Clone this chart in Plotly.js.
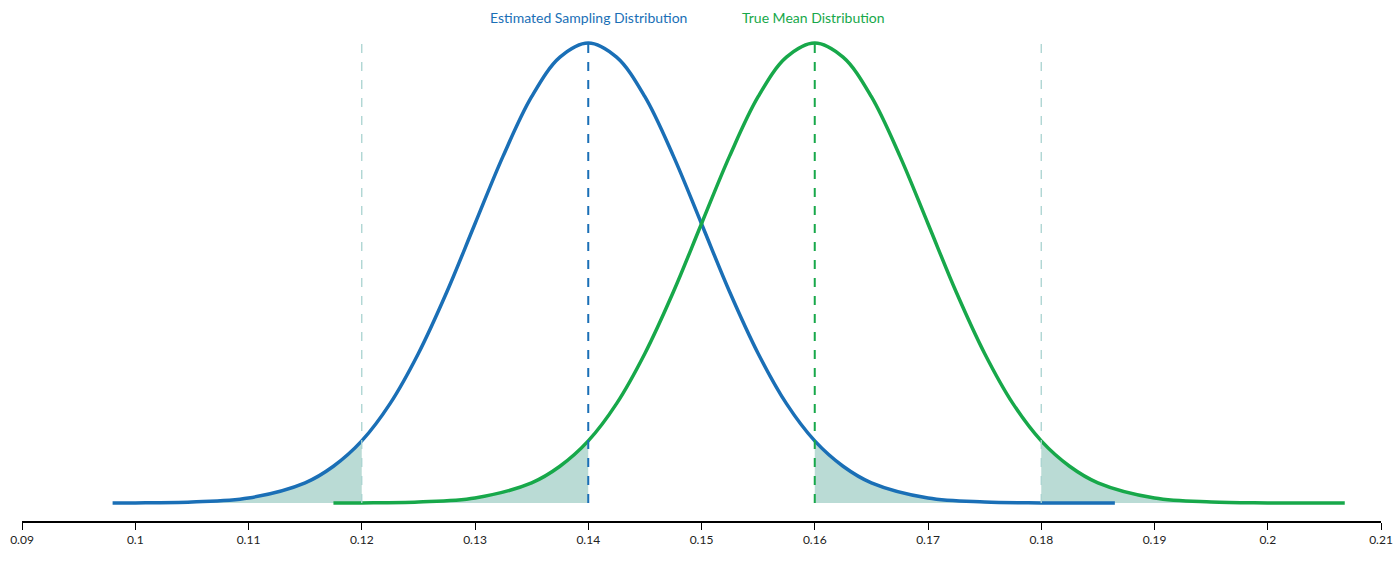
<!DOCTYPE html>
<html>
<head>
<meta charset="utf-8">
<script src="https://cdn.plot.ly/plotly-3.0.1.min.js"></script>
<style>html,body{margin:0;padding:0;background:#fff}#chart{width:1400px;height:561px}</style>
</head>
<body>
<div id="chart"></div>
<script>
// Curve heights (relative to the peak)
const blueX = [0.098, 0.100, 0.105, 0.110, 0.115, 0.1175, 0.120, 0.1225, 0.125, 0.1275, 0.130, 0.1325, 0.135, 0.1375, 0.140,
               0.1425, 0.145, 0.1475, 0.150, 0.1525, 0.155, 0.1575, 0.160, 0.1625, 0.165, 0.170, 0.175, 0.180, 0.1865];
const blueY = [0.0002, 0.0003, 0.0022, 0.011, 0.044, 0.080, 0.135, 0.216, 0.325, 0.458, 0.607, 0.755, 0.883, 0.969, 1.0,
               0.969, 0.883, 0.755, 0.607, 0.458, 0.325, 0.216, 0.135, 0.080, 0.044, 0.011, 0.0022, 0.0003, 0.0];
const greenX = [0.1175, 0.120, 0.125, 0.130, 0.135, 0.1375, 0.140, 0.1425, 0.145, 0.1475, 0.150, 0.1525, 0.155, 0.1575, 0.160,
                0.1625, 0.165, 0.1675, 0.170, 0.1725, 0.175, 0.1775, 0.180, 0.1825, 0.185, 0.190, 0.195, 0.200, 0.2068];
const greenY = [0.0001, 0.0003, 0.0022, 0.011, 0.044, 0.080, 0.135, 0.216, 0.325, 0.458, 0.607, 0.755, 0.883, 0.969, 1.0,
                0.969, 0.883, 0.755, 0.607, 0.458, 0.325, 0.216, 0.135, 0.080, 0.044, 0.011, 0.0022, 0.0003, 0.0];
const tickVals = [0.09, 0.10, 0.11, 0.12, 0.13, 0.14, 0.15, 0.16, 0.17, 0.18, 0.19, 0.20, 0.21];
const tickText = ['0.09', '0.1', '0.11', '0.12', '0.13', '0.14', '0.15', '0.16', '0.17', '0.18', '0.19', '0.2', '0.21'];
const critLines = [0.12, 0.18];
const blueMean = 0.14, greenMean = 0.16;

const C = { blue: '#1a6fb6', green: '#17a84a', shade: 'rgba(140,195,185,0.6)', crit: '#a9d3d0' };

function slice(xs, ys, lo, hi) {
  const x = [], y = [];
  xs.forEach((v, i) => { if (v >= lo - 1e-9 && v <= hi + 1e-9) { x.push(v); y.push(ys[i]); } });
  return { x, y };
}
function shade(xs, ys, lo, hi) {
  const s = slice(xs, ys, lo, hi);
  return { type: 'scatter', mode: 'lines', x: s.x, y: s.y, fill: 'tozeroy',
           fillcolor: C.shade, line: { width: 0, shape: 'spline' }, hoverinfo: 'skip' };
}

const traces = [
  shade(blueX, blueY, 0.098, 0.12),
  shade(greenX, greenY, 0.1175, 0.14),
  shade(blueX, blueY, 0.16, 0.1865),
  shade(greenX, greenY, 0.18, 0.2068),
  { type: 'scatter', mode: 'lines', x: blueX, y: blueY, line: { color: C.blue, width: 3.5, shape: 'spline' } },
  { type: 'scatter', mode: 'lines', x: greenX, y: greenY, line: { color: C.green, width: 3.5, shape: 'spline' } },
];

const vline = (x, color, w) => ({ type: 'line', xref: 'x', yref: 'y', x0: x, x1: x, y0: 0, y1: 1,
  line: { color, width: w, dash: 'dash' } });

const layout = {
  width: 1400, height: 561,
  margin: { l: 22, r: 19, t: 30, b: 40 },
  paper_bgcolor: '#fff', plot_bgcolor: '#fff',
  showlegend: false,
  font: { family: 'Lato, DejaVu Sans, sans-serif', size: 12, color: '#222' },
  xaxis: { range: [0.09, 0.21], tickvals: tickVals, ticktext: tickText, ticks: 'outside',
           ticklen: 7, tickcolor: '#000', showline: true, linecolor: '#000', linewidth: 1.5,
           showgrid: false, zeroline: false, tickfont: { size: 12 } },
  yaxis: { range: [-0.039, 1.028], visible: false, showgrid: false, zeroline: false },
  shapes: [
    vline(critLines[0], C.crit, 1.3), vline(critLines[1], C.crit, 1.3),
    vline(blueMean, C.blue, 2), vline(greenMean, C.green, 2),
  ],
  annotations: [
    { xref: 'paper', yref: 'paper', x: 0.4165, y: 1.0, yanchor: 'bottom', yshift: 2, showarrow: false,
      text: 'Estimated Sampling Distribution', font: { color: C.blue, size: 14 } },
    { xref: 'paper', yref: 'paper', x: 0.5825, y: 1.0, yanchor: 'bottom', yshift: 2, showarrow: false,
      text: 'True Mean Distribution', font: { color: C.green, size: 14 } },
  ],
};

Plotly.newPlot('chart', traces, layout, { displayModeBar: false, staticPlot: true });
</script>
</body>
</html>
